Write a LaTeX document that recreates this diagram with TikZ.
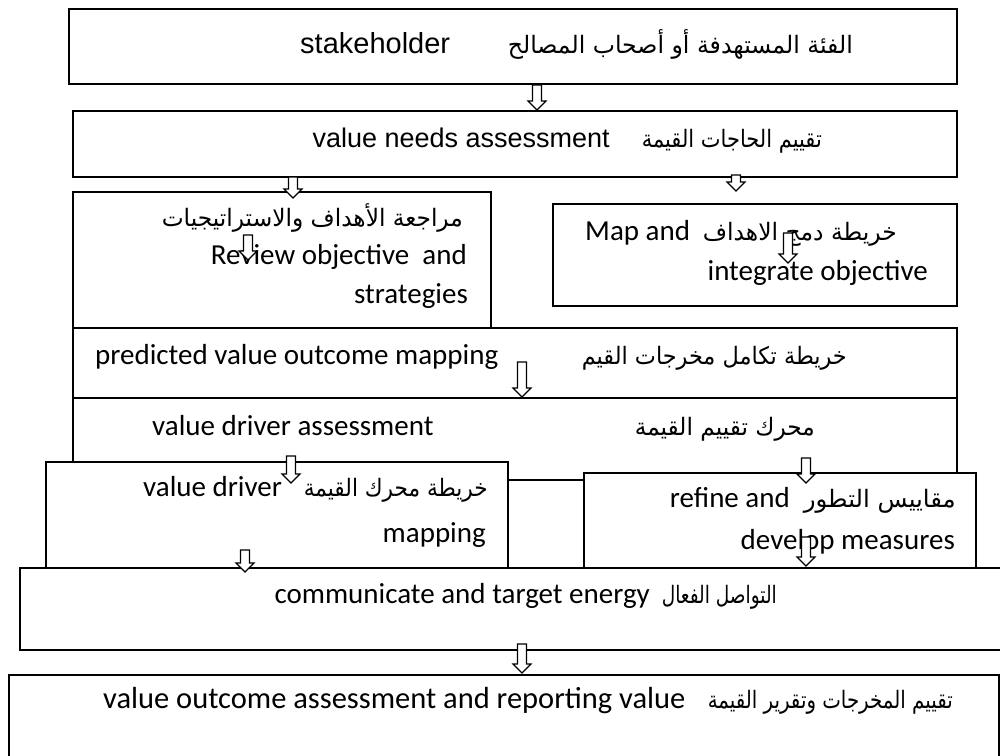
\documentclass[tikz,border=0pt]{standalone}
\usepackage{fontspec}
\setmainfont{Carlito}
\newfontfamily\arialf{Liberation Sans}
\newfontfamily\arabicfont[Script=Arabic]{DejaVu Sans}
\TeXXeTstate=1
\newsavebox{\arbox}
\newlength{\arw}
\newcommand{\ARt}[2]{\sbox{\arbox}{\arabicfont\fontsize{24}{28}\selectfont #2}\setlength{\arw}{\wd\arbox}\pgfmathsetmacro{\arratio}{#1/\arw}\scalebox{\arratio}[1]{\usebox{\arbox}}}
\newcommand{\harr}[4]{%
  \coordinate (#1) at (#2,#4);
  \draw[arr] (#2-4.5,#3) -- (#2-4.5,#4-9) -- (#2-9,#4-9) -- (#1) -- (#2+9,#4-9) -- (#2+4.5,#4-9) -- (#2+4.5,#3) -- cycle;}
\begin{document}
\begin{tikzpicture}[x=1pt,y=-1pt,
  box/.style={draw=black, line width=1.5pt, fill=white, inner sep=0pt, anchor=north west},
  txt/.style={inner sep=0pt, font=\fontsize{29}{35}\selectfont},
  atxt/.style={inner sep=0pt, font=\arialf\fontsize{29}{35}\selectfont},
  arr/.style={draw=black, line width=1.1pt, fill=white, line join=miter}]
\path[use as bounding box] (0,0) rectangle (1000,755);
\clip (0,0) rectangle (1000,755);
\fill[white] (0,0) rectangle (1000,755);
% boxes
\node[box, minimum width=888pt, minimum height=75pt] (b1) at (68,8) {};
\node[box, minimum width=884pt, minimum height=66pt] (b2) at (72,110) {};
\node[box, minimum width=418pt, minimum height=136pt] (b3) at (72,191) {};
\node[box, minimum width=404pt, minimum height=102pt] (b4) at (552,203) {};
\node[box, minimum width=884pt, minimum height=70pt] (b5) at (72,327) {};
\node[box, minimum width=884pt, minimum height=82pt] (b6) at (72,397) {};
\node[box, minimum width=462pt, minimum height=106pt] (b7) at (45,461) {};
\node[box, minimum width=392pt, minimum height=95pt] (b8) at (583,472) {};
\node[box, minimum width=991pt, minimum height=82pt] (b9) at (19,567) {};
\node[box, minimum width=990pt, minimum height=96pt] (b10) at (8,674) {};
% texts
\node[atxt, anchor=mid west] (t1e) at (300,51) {stakeholder};
\node[txt, anchor=mid east] (t1a) at (853,51) {\ARt{345}{\beginR الفئة المستهدفة أو أصحاب المصالح\endR}};
\node[atxt, anchor=mid east, font=\arialf\fontsize{27}{33}\selectfont] (t2e) at (610,145) {value needs assessment};
\node[txt, anchor=mid east] (t2a) at (822,145) {\ARt{180}{\beginR تقييم الحاجات القيمة\endR}};
\node[txt, anchor=mid east] (t3a) at (463,224) {\ARt{301}{\beginR مراجعة الأهداف والاستراتيجيات\endR}};
\node[txt, anchor=mid east] (t3b) at (467,262) {Review objective\ \ and};
\node[txt, anchor=mid east] (t3c) at (468,301) {strategies};
\node[txt, anchor=mid west] (t4a) at (585,238) {Map and};
\node[txt, anchor=mid east] (t4b) at (897,238) {\ARt{194}{\beginR خريطة دمج الاهداف\endR}};
\node[txt, anchor=mid east] (t4c) at (928,278) {integrate objective};
\node[txt, anchor=mid west] (t5e) at (95,362) {predicted value outcome mapping};
\node[txt, anchor=mid east] (t5a) at (847,362) {\ARt{265}{\beginR خريطة تكامل مخرجات القيم\endR}};
\node[txt, anchor=mid west] (t6e) at (152,433) {value driver assessment};
\node[txt, anchor=mid east] (t6a) at (815,433) {\ARt{180}{\beginR محرك تقييم القيمة\endR}};
\node[txt, anchor=mid west] (t7e) at (143,494) {value driver};
\node[txt, anchor=mid east] (t7a) at (488,494) {\ARt{184}{\beginR خريطة محرك القيمة\endR}};
\node[txt, anchor=mid east] (t7b) at (486,540) {mapping};
\node[txt, anchor=mid east] (t8e) at (790,505) {refine and};
\node[txt, anchor=mid east] (t8a) at (956,505) {\ARt{152}{\beginR مقاييس التطور\endR}};
\node[txt, anchor=mid east] (t8b) at (955,547) {develop measures};
\node[txt, anchor=mid east] (t9e) at (650,601) {communicate and target energy};
\node[txt, anchor=mid east] (t9a) at (777,601) {\ARt{115}{\beginR التواصل الفعال\endR}};
\node[txt, anchor=mid west, font=\fontsize{30.5}{36}\selectfont] (t10e) at (103,706) {value outcome assessment and reporting value};
\node[txt, anchor=mid east] (t10a) at (953,706) {\ARt{245}{\beginR تقييم المخرجات وتقرير القيمة\endR}};
% hollow arrows
\harr{a1}{537}{85}{110}
\harr{a2}{293}{177}{198}
\harr{a3}{736}{175}{191}
\harr{a4}{248}{235}{260}
\harr{a5}{788}{233}{263}
\harr{a6}{522}{362}{397}
\harr{a7}{291}{456}{483}
\harr{a8}{245}{550}{572}
\harr{a9}{806}{458}{483}
\harr{a10}{806}{537}{566}
\harr{a11}{522}{644}{673}
\end{tikzpicture}
\end{document}
